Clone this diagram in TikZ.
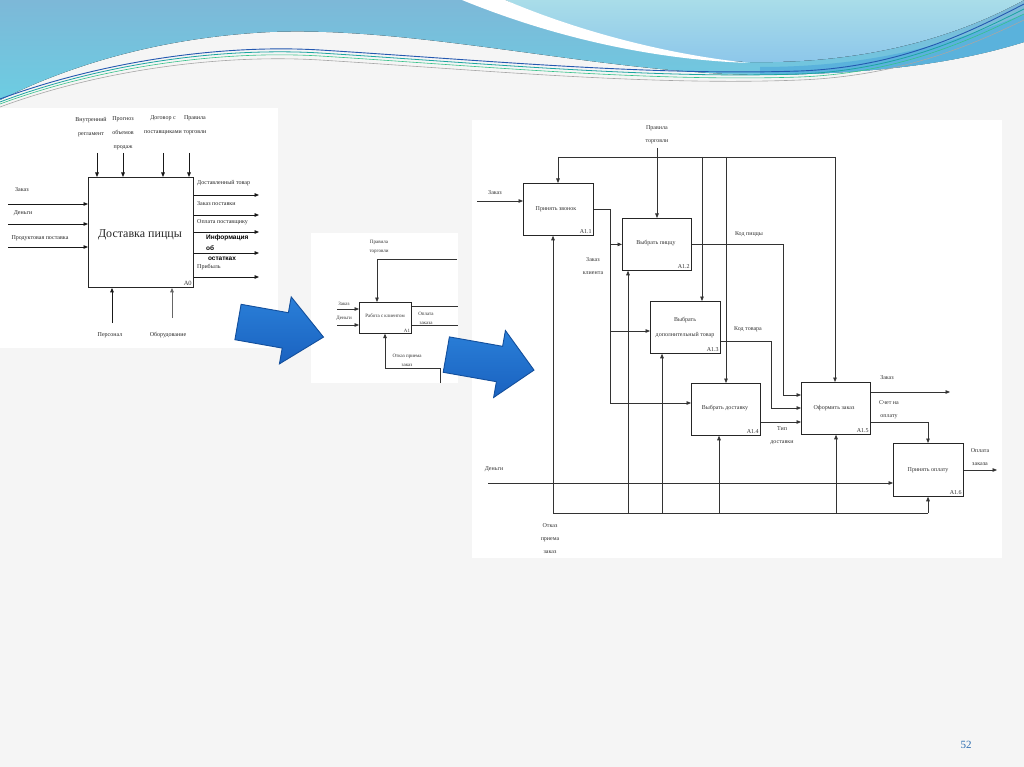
\documentclass[tikz,border=0pt]{standalone}
\usepackage{fontspec}
\setmainfont{Liberation Serif}
\newfontfamily\boldsans{Liberation Sans}
\usetikzlibrary{arrows.meta,calc}
\definecolor{bg}{HTML}{F5F5F5}
\definecolor{waveA}{HTML}{7DB8D8}
\definecolor{waveB}{HTML}{6CCDE2}
\definecolor{waveC}{HTML}{A9DDE9}
\definecolor{waveD}{HTML}{8CC6EA}
\definecolor{waveE}{HTML}{5AB2DC}
\definecolor{lnavy}{HTML}{2458B0}
\definecolor{lteal}{HTML}{1BA5A0}
\definecolor{lgreen}{HTML}{35C28A}
\definecolor{barrowl}{HTML}{2A7FD8}
\definecolor{barrow}{HTML}{1A62C0}
\definecolor{barrowd}{HTML}{134F9C}
\definecolor{pgnum}{HTML}{2B6CB0}
\begin{document}
\begin{tikzpicture}[x=1pt,y=-1pt,
  box/.style={draw=black!85, line width=0.8pt, fill=white, inner sep=0pt, anchor=north west},
  lbl/.style={font=\fontsize{6}{13}\selectfont, align=center, inner sep=0pt, text=black!80},
  llbl/.style={font=\fontsize{6}{14}\selectfont, align=center, inner sep=0pt, text=black!85},
  mlbl/.style={font=\fontsize{5}{9}\selectfont, align=center, inner sep=0pt, text=black!80},
  num/.style={font=\fontsize{6}{7}\selectfont, inner sep=2pt, anchor=south east, text=black!80},
  ln/.style={draw=black!80, line width=0.7pt},
  arr/.style={ln, -{Triangle[length=4.5pt,width=3.6pt]}},
  lln/.style={draw=black!90, line width=0.9pt},
  larr/.style={lln, -{Triangle[length=4.5pt,width=3.6pt]}},
  bigarrow/.style={top color=barrowl, bottom color=barrow, draw=barrowd, line width=0.9pt, line join=miter},
  panel/.style={fill=white, draw=none},
]
\useasboundingbox (0,0) rectangle (1024,767);
\fill[bg] (0,0) rectangle (1024,767);

% ---------- top wave ----------
\fill[top color=waveA, bottom color=waveB] (0,0) -- (1024,0) -- (1024,42)
  .. controls (960,62) and (880,74) .. (760,75)
  .. controls (600,73) and (420,26) .. (270,32)
  .. controls (150,38) and (60,70) .. (0,100) -- cycle;
\fill[top color=waveC, bottom color=waveD] (505,0) .. controls (590,40) and (670,60) .. (750,62)
  .. controls (870,64) and (960,35) .. (1024,0) -- cycle;
\fill[white] (462,0) .. controls (560,40) and (660,60) .. (750,63)
  .. controls (670,55) and (580,32) .. (505,0) -- cycle;
\fill[waveE] (760,67) .. controls (880,67) and (960,40) .. (1024,14) -- (1024,42)
  .. controls (960,62) and (880,74) .. (760,75) -- cycle;
\draw[lnavy, line width=0.9pt] (0,99) .. controls (100,62) and (220,44) .. (320,50) .. controls (480,60) and (650,76) .. (800,71) .. controls (900,67) and (970,32) .. (1024,4);
\draw[lteal, line width=0.8pt] (0,102) .. controls (100,64) and (220,47) .. (320,53) .. controls (480,63) and (650,79) .. (800,74) .. controls (900,70) and (970,36) .. (1024,9);
\draw[lgreen, line width=0.6pt] (0,104) .. controls (100,67) and (220,50) .. (320,56) .. controls (480,66) and (650,82) .. (800,77) .. controls (900,73) and (970,40) .. (1024,14);
\draw[black!35, line width=0.6pt] (0,107) .. controls (100,70) and (220,54) .. (320,60) .. controls (480,70) and (650,86) .. (800,80) .. controls (900,76) and (970,46) .. (1024,20);

% ---------- panels ----------
\fill[panel] (0,108) rectangle (278,348);
\fill[panel] (311,233) rectangle (458,383);
\fill[panel] (472,120) rectangle (1002,558);

% ---------- left diagram (A0) ----------
\node[box, line width=0.9pt, minimum width=105pt, minimum height=110pt] (a0) at (88,177) {};
\node[font=\fontsize{12}{12}\selectfont, text=black!85, inner sep=0pt] (a0t) at (140,235) {Доставка пиццы};
\node[num, font=\fontsize{6.5}{7}\selectfont] (a0n) at (a0.south east) {A0};
\foreach \x/\n in {97/c1,123/c2,163/c3,189/c4} {
  \coordinate (L\n) at (\x,153);
  \draw[larr] (L\n) -- (L\n |- a0.north);
}
\node[llbl] (lt1) at (91,127) {Внутренний\\регламент};
\node[llbl] (lt2) at (123,133) {Прогноз\\объемов\\продаж};
\node[llbl] (lt3) at (163,125) {Договор с\\поставщиками};
\node[llbl] (lt4) at (195,125) {Правила\\торговли};
\foreach \y/\n in {204/i1,224/i2,247/i3} {
  \coordinate (L\n) at (8,\y);
  \draw[larr] (L\n) -- (L\n -| a0.west);
}
\node[llbl] (li1) at (22,190) {Заказ};
\node[llbl] (li2) at (23,213) {Деньги};
\node[llbl] (li3) at (40,238) {Продуктовая поставка};
\foreach \y/\n in {195/o1,215/o2,232/o3,253/o4,277/o5} {
  \coordinate (L\n) at (259,\y);
  \draw[larr] (L\n -| a0.east) -- (L\n);
}
\node[llbl, anchor=west] (lo1) at (197,183) {Доставленный товар};
\node[llbl, anchor=west] (lo2) at (197,204) {Заказ поставки};
\node[llbl, anchor=west] (lo3) at (197,222) {Оплата поставщику};
\node[llbl, anchor=west] (lo5) at (197,267) {Прибыль};
\node[font=\boldsans\bfseries\fontsize{6.5}{10.5}\selectfont, align=left, inner sep=0pt, anchor=north west, text=black] (lo4) at (206,235) {Информация\\об\\\ остатках};
\coordinate (Lm1) at (112,323);
\coordinate (Lm2) at (172,318);
\draw[larr] (Lm1) -- (Lm1 |- a0.south);
\draw[larr, draw=black!60] (Lm2) -- (Lm2 |- a0.south);
\node[llbl] (lm1) at (110,335) {Персонал};
\node[llbl] (lm2) at (168,335) {Оборудование};

% ---------- middle diagram (A1) ----------
\node[box, line width=0.7pt, minimum width=52pt, minimum height=31pt] (m1) at (359,302) {};
\node[mlbl] (m1t) at (385,316) {Работа с клиентом};
\node[num, font=\fontsize{5}{6}\selectfont, inner sep=1.5pt] (m1n) at (m1.south east) {A1};
\coordinate (Mc) at (457,259);
\coordinate (Mc2) at (377,259);
\draw[arr] (Mc) -- (Mc2) -- (Mc2 |- m1.north);
\node[mlbl] (mct) at (379,247) {Правила\\торговли};
\coordinate (Mi1) at (337,309);
\coordinate (Mi2) at (337,325);
\draw[arr] (Mi1) -- (Mi1 -| m1.west);
\draw[arr] (Mi2) -- (Mi2 -| m1.west);
\node[mlbl] (mi1) at (344,304) {Заказ};
\node[mlbl] (mi2) at (344,318) {Деньги};
\coordinate (Mo1) at (458,306);
\coordinate (Mo2) at (458,325);
\draw[ln] (Mo1 -| m1.east) -- (Mo1);
\draw[ln] (Mo2 -| m1.east) -- (Mo2);
\node[mlbl] (mot) at (426,318) {Оплата\\заказа};
\coordinate (Mb1) at (385,368);
\coordinate (Mb2) at (440,368);
\coordinate (Mb3) at (440,383);
\draw[arr] (Mb3) -- (Mb2) -- (Mb1) -- (Mb1 |- m1.south);
\node[mlbl] (mbt) at (407,360) {Отказ приема\\заказ};

% ---------- big blue arrows ----------
\path[bigarrow] (241.1,304.3) -- (288.4,312.7) -- (291.2,296.9) -- (323.5,337.1)
  -- (279.4,363.9) -- (282.2,348.1) -- (234.9,339.7) -- cycle;
\path[bigarrow] (449.4,336.9) -- (502.6,346.3) -- (505.4,330.5) -- (534,370.1)
  -- (493.6,397.5) -- (496.4,381.7) -- (443.2,372.3) -- cycle;

% ---------- right diagram (A1 decomposition) ----------
\node[box, minimum width=70pt, minimum height=52pt] (a11) at (523,183) {};
\node[box, minimum width=69pt, minimum height=52pt] (a12) at (622,218) {};
\node[box, minimum width=70pt, minimum height=52pt] (a13) at (650,301) {};
\node[box, minimum width=69pt, minimum height=52pt] (a14) at (691,383) {};
\node[box, minimum width=69pt, minimum height=52pt] (a15) at (801,382) {};
\node[box, minimum width=70pt, minimum height=53pt] (a16) at (893,443) {};
\node[lbl] (a11t) at (556,209) {Принять звонок};
\node[lbl] (a12t) at (656,243) {Выбрать пиццу};
\node[lbl, font=\fontsize{6}{15}\selectfont] (a13t) at (685,327) {Выбрать\\дополнительный товар};
\node[lbl] (a14t) at (725,408) {Выбрать доставку};
\node[lbl] (a15t) at (834,408) {Оформить заказ};
\node[lbl] (a16t) at (928,470) {Принять оплату};
\node[num] (a11n) at (a11.south east) {A1.1};
\node[num] (a12n) at (a12.south east) {A1.2};
\node[num] (a13n) at (a13.south east) {A1.3};
\node[num] (a14n) at (a14.south east) {A1.4};
\node[num] (a15n) at (a15.south east) {A1.5};
\node[num] (a16n) at (a16.south east) {A1.6};

% input
\coordinate (inZ) at (477,201);
\draw[arr] (inZ) -- (inZ -| a11.west);
\node[lbl] (inZt) at (495,193) {Заказ};
% control Правила торговли
\coordinate (pr) at (657,148);
\draw[arr] (pr) -- (pr |- a12.north);
\node[lbl] (prt) at (657,135) {Правила\\торговли};
% top loop
\coordinate (t1) at (558,157);
\coordinate (t2) at (835,157);
\coordinate (t3) at (702,157);
\coordinate (t4) at (726,157);
\draw[ln] (t1) -- (t2);
\draw[arr] (t1) -- (t1 |- a11.north);
\draw[arr] (t3) -- (t3 |- a13.north);
\draw[arr] (t4) -- (t4 |- a14.north);
\draw[arr] (t2) -- (t2 |- a15.north);
% A1.1 output: Заказ клиента
\coordinate (o11) at (610,209);
\coordinate (o11b) at (610,403);
\coordinate (i13) at (610,331);
\draw[ln] (a11.east |- o11) -- (o11) -- (o11b);
\draw[arr] (o11 |- a12.west) -- (a12.west);
\draw[arr] (i13) -- (i13 -| a13.west);
\draw[arr] (o11b) -- (o11b -| a14.west);
\node[lbl] (o11t) at (593,266) {Заказ\\клиента};
% A1.2 output: Код пиццы
\coordinate (k1) at (783,244);
\coordinate (k2) at (783,395);
\draw[arr] (a12.east |- k1) -- (k1) -- (k2) -- (k2 -| a15.west);
\node[lbl] (k1t) at (749,234) {Код пиццы};
% A1.3 output: Код товара
\coordinate (c1) at (771,341);
\coordinate (c2) at (771,408);
\draw[arr] (c1 -| a13.east) -- (c1) -- (c2) -- (c2 -| a15.west);
\node[lbl] (c1t) at (748,329) {Код товара};
% A1.4 output: Тип доставки
\coordinate (d1) at (780,422);
\draw[arr] (d1 -| a14.east) -- (d1 -| a15.west);
\node[lbl] (d1t) at (782,436) {Тип\\доставки};
% A1.5 outputs
\coordinate (z1) at (950,392);
\draw[arr] (z1 -| a15.east) -- (z1);
\node[lbl] (z1t) at (887,378) {Заказ};
\coordinate (s1) at (928,422);
\draw[arr] (s1 -| a15.east) -- (s1) -- (s1 |- a16.north);
\node[lbl] (s1t) at (889,410) {Счет на\\оплату};
% A1.6 output
\coordinate (op) at (997,470);
\draw[arr] (op -| a16.east) -- (op);
\node[lbl] (opt) at (980,457) {Оплата\\заказа};
% Деньги
\coordinate (dm) at (488,483);
\draw[arr] (dm) -- (dm -| a16.west);
\node[lbl] (dmt) at (494,469) {Деньги};
% bottom mechanism line
\coordinate (b1) at (553,513);
\coordinate (b2) at (928,513);
\draw[ln] (b1) -- (b2);
\draw[arr] (b1) -- (b1 |- a11.south);
\draw[arr] (b2) -- (b2 |- a16.south);
\foreach \x/\n/\bx in {628/b3/a12,662/b4/a13,719/b5/a14,836/b6/a15} {
  \coordinate (\n) at (\x,513);
  \draw[arr] (\n) -- (\n |- \bx.south);
}
\node[lbl] (b1t) at (550,539) {Отказ\\приема\\заказ};

% page number
\node[font=\fontsize{11}{11}\selectfont, text=pgnum, inner sep=0pt] (pg) at (966,745) {52};
\end{tikzpicture}
\end{document}
